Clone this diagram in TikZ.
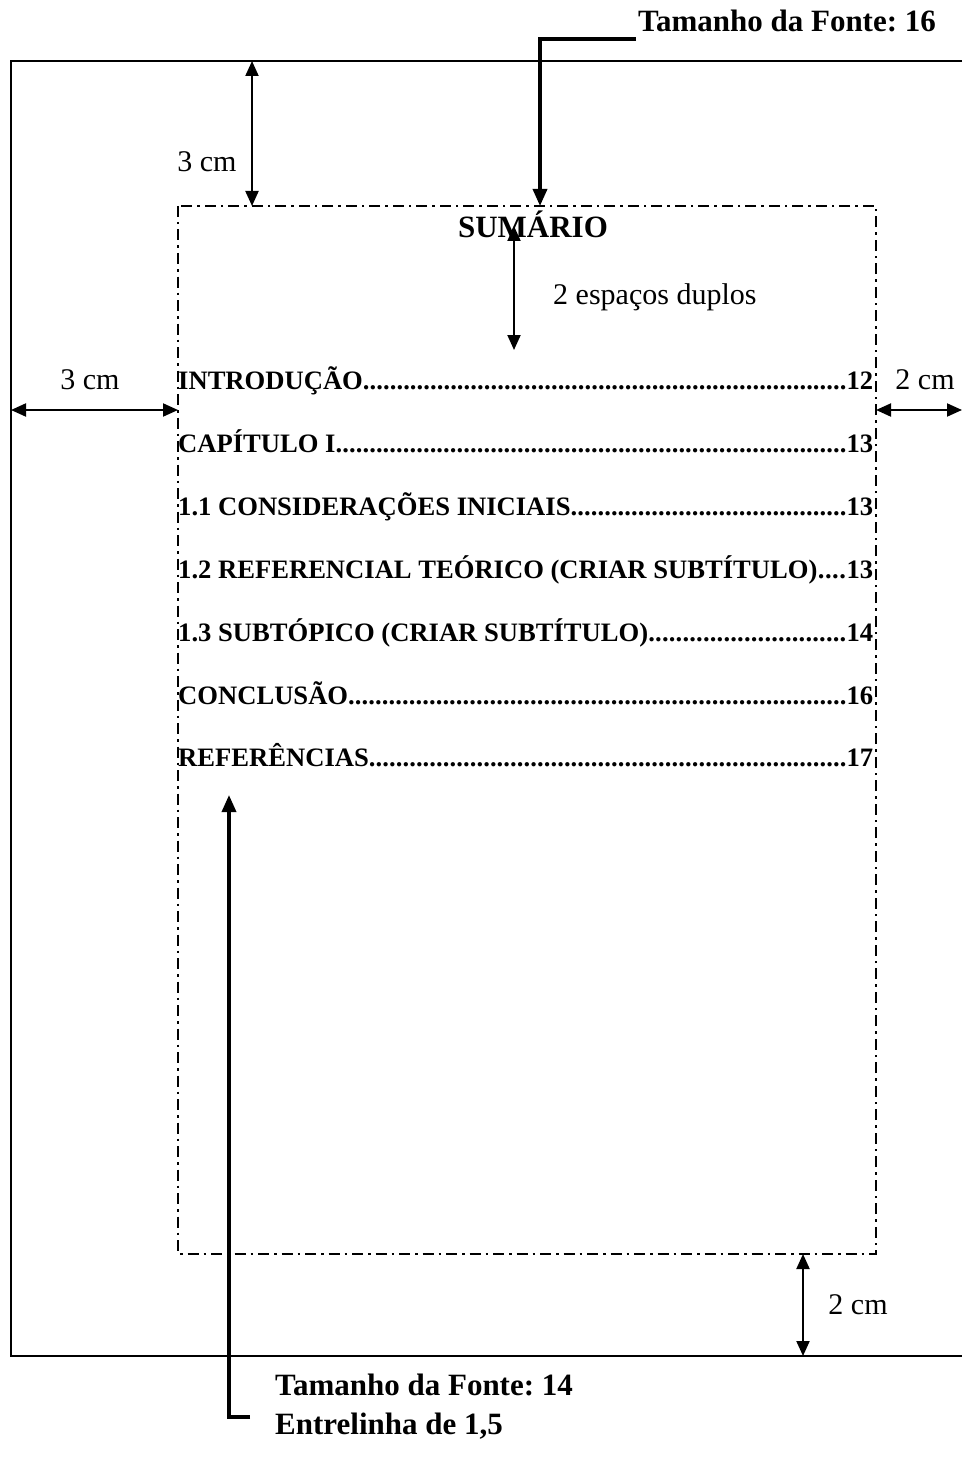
\documentclass[tikz,border=0pt]{standalone}
\usepackage{fontspec}
\setmainfont{Liberation Serif}
\usetikzlibrary{arrows.meta}
\frenchspacing
\tikzset{
  dim/.style={line width=2pt,{Triangle[width=13pt,length=15pt]}-{Triangle[width=13pt,length=15pt]}},
  callout/.style={line width=3.5pt,-{Triangle[width=14pt,length=17pt]}},
  page/.style={line width=2pt},
  margin/.style={line width=2.2pt,dash pattern=on 11pt off 5pt on 2.5pt off 5pt},
  lbl/.style={inner sep=0pt,font=\fontsize{30}{30}\selectfont},
  entry/.style={inner sep=0pt,anchor=base west,font=\fontsize{26.6}{26.6}\selectfont\bfseries},
  big/.style={inner sep=0pt,font=\fontsize{31}{31}\selectfont\bfseries}
}
\newcommand{\tocline}[2]{\hbox to 695pt{#1\xleaders\hbox{.}\hfill#2}}
\begin{document}
\begin{tikzpicture}[x=1pt,y=-1pt]
\useasboundingbox (0,0) rectangle (962,1463);
% page outline (right edge outside the picture)
\coordinate (ptr) at (962,61);
\coordinate (ptl) at (11,61);
\coordinate (pbl) at (11,1356);
\coordinate (pbr) at (962,1356);
\draw[page] (ptr) -- (ptl) -- (pbl) -- (pbr);
% margin box
\coordinate (mtl) at (178,206);
\coordinate (mbr) at (876,1254);
\draw[margin] (mtl) rectangle (mbr);
% top 3 cm
\coordinate (t1) at (252,61);
\coordinate (t2) at (252,206);
\draw[dim] (t1) -- (t2);
\node[lbl] (lt) at (207,162) {3 cm};
% left 3 cm
\coordinate (l1) at (11,410);
\coordinate (l2) at (178,410);
\draw[dim] (l1) -- (l2);
\node[lbl] (ll) at (90,380) {3 cm};
% right 2 cm
\coordinate (r1) at (876,410);
\coordinate (r2) at (962,410);
\draw[dim] (r1) -- (r2);
\node[lbl] (lr) at (925,380) {2 cm};
% bottom 2 cm
\coordinate (b1) at (803,1254);
\coordinate (b2) at (803,1356);
\draw[dim] (b1) -- (b2);
\node[lbl] (lb) at (858,1305) {2 cm};
% title
\node[big,anchor=base] (title) at (533,237) {SUMÁRIO};
% 2 espacos duplos
\coordinate (e1) at (514,226);
\coordinate (e2) at (514,350);
\draw[dim] (e1) -- (e2);
\node[lbl,anchor=west] (le) at (553,297) {2 espaços duplos};
% entries
\node[entry] (n1) at (178,389) {\tocline{INTRODUÇÃO}{12}};
\node[entry] (n2) at (178,452) {\tocline{CAPÍTULO I}{13}};
\node[entry] (n3) at (178,515) {\tocline{1.1 CONSIDERAÇÕES INICIAIS}{13}};
\node[entry] (n4) at (178,578) {\tocline{1.2 REFERENCIAL TEÓRICO (CRIAR SUBTÍTULO)}{13}};
\node[entry] (n5) at (178,641) {\tocline{1.3 SUBTÓPICO (CRIAR SUBTÍTULO)}{14}};
\node[entry] (n6) at (178,704) {\tocline{CONCLUSÃO}{16}};
\node[entry] (n7) at (178,766) {\tocline{REFERÊNCIAS}{17}};
% callout font 16
\node[big,anchor=base west] (c16) at (638,32) {Tamanho da Fonte: 16};
\coordinate (c16a) at (636,39);
\coordinate (c16b) at (540,39);
\coordinate (c16c) at (540,206);
\draw[callout] (c16a) -- (c16b) -- (c16c);
% callout font 14
\node[big,anchor=base west] (c14) at (275,1395) {Tamanho da Fonte: 14};
\node[big,anchor=base west] (c14b) at (275,1434) {Entrelinha de 1,5};
\coordinate (c14a) at (250,1417);
\coordinate (c14c) at (229,1417);
\coordinate (c14d) at (229,795);
\draw[callout] (c14a) -- (c14c) -- (c14d);
\end{tikzpicture}
\end{document}
